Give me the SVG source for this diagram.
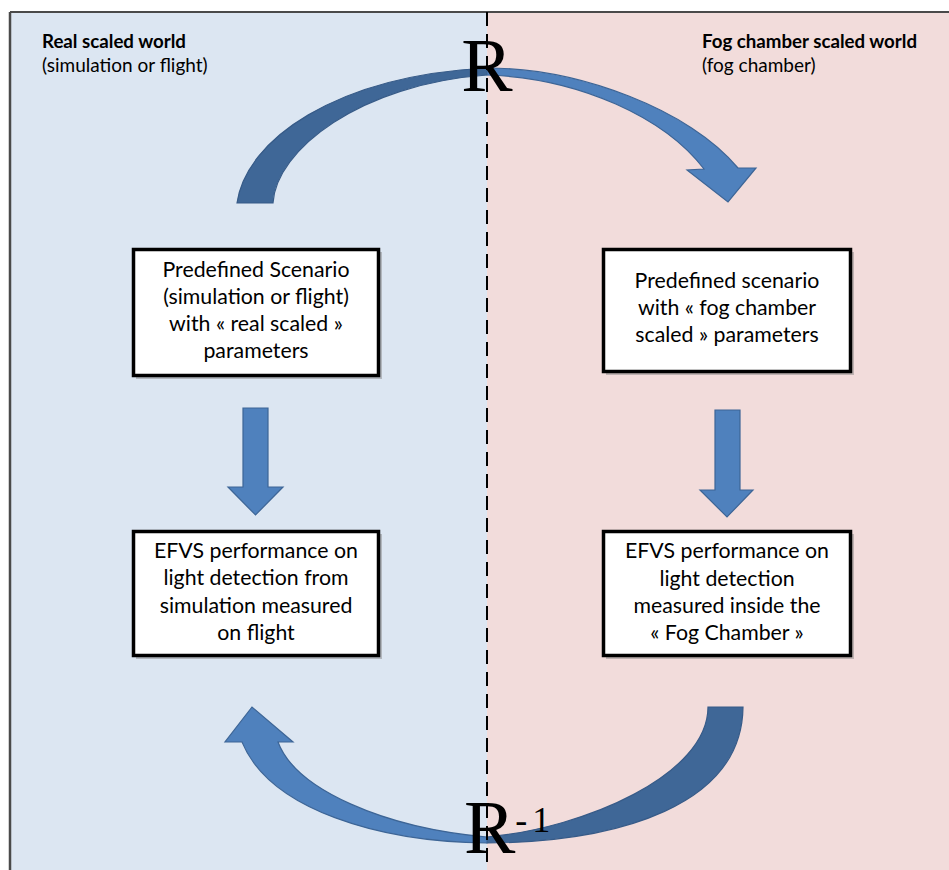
<svg xmlns="http://www.w3.org/2000/svg" width="949" height="870" viewBox="0 0 949 870">
<style>
.title{font-family:Lato,"Liberation Sans",sans-serif;font-size:18.7px;font-weight:bold;fill:#000}
.sub{font-family:Lato,"Liberation Sans",sans-serif;font-size:19px;fill:#000}
.box{fill:#fff;stroke:#000;stroke-width:3.5}
.shadow{fill:#7f7f7f;opacity:0.45}
.lbl{font-family:Lato,"Liberation Sans",sans-serif;font-size:21.3px;fill:#000;text-anchor:middle}
.light{fill:#4f81bd;stroke:#3d6596;stroke-width:1.2}
.dark{fill:#3f6797;stroke:#375b88;stroke-width:1.2}
.rlab{font-family:"Liberation Serif","Times New Roman",serif;fill:#000}
</style>
<rect x="0" y="0" width="949" height="870" fill="#fff"/>
<g id="panels">
<rect x="10" y="12" width="477" height="858" fill="#dce6f2"/>
<rect x="487" y="12" width="462" height="858" fill="#f2dcdb"/>
<line x1="10" y1="12" x2="949" y2="12" stroke="#4a4a4a" stroke-width="2"/>
<line x1="10" y1="12" x2="10" y2="870" stroke="#4a4a4a" stroke-width="2.5"/>
</g>
<g id="real-world-title">
<text class="title" x="42" y="48">Real scaled world</text>
<text class="sub" x="42" y="72">(simulation or flight)</text>
</g>
<g id="fog-world-title">
<text class="title" x="702" y="48">Fog chamber scaled world</text>
<text class="sub" x="702" y="72">(fog chamber)</text>
</g>
<g id="connectors">
<path class="dark" d="M237,203 C246,140 335,76 487,68 L487,75 C360,84 276,150 273,203 Z"/>
<path class="light" d="M487,68 C580,68 690,110 738,168 L756,168 L728,202 L687,170 L704,169 C665,118 580,78 487,75 Z"/>
<path class="light" d="M243,408 H268 V487 H283 L255.5,515 L228,487 H243 Z"/>
<path class="light" d="M715,410 H740 V490 H753 L727,517 L700,490 H715 Z"/>
<path class="dark" d="M743,707 C742,805 620,842 487,843 L487,837 C585,828 708,775 708,707 Z"/>
<path class="light" d="M487,843 C380,842 270,810 242,742 L225,742 L252,707 L293,742 L278,742 C296,790 385,828 487,837 Z"/>
<line x1="487" y1="12" x2="487" y2="870" stroke="#000" stroke-width="2" stroke-dasharray="14,8"/>
<text class="rlab" x="487" y="91" font-size="77" text-anchor="middle">R</text>
<text class="rlab" x="464" y="853" font-size="77">R<tspan font-size="36" dy="-21" letter-spacing="5">-1</tspan></text>
</g>
<g id="node-real-scenario">
<rect class="shadow" x="136" y="252" width="246" height="127"/>
<rect class="box" x="133.5" y="249.5" width="245" height="126"/>
<text class="lbl" x="256" y="277">Predefined Scenario</text>
<text class="lbl" x="256" y="304">(simulation or flight)</text>
<text class="lbl" x="256" y="331">with « real scaled »</text>
<text class="lbl" x="256" y="358">parameters</text>
</g>
<g id="node-real-performance">
<rect class="shadow" x="136" y="534" width="246" height="125"/>
<rect class="box" x="133.5" y="531.5" width="245" height="124"/>
<text class="lbl" x="256" y="558">EFVS performance on</text>
<text class="lbl" x="256" y="585">light detection from</text>
<text class="lbl" x="256" y="613">simulation measured</text>
<text class="lbl" x="256" y="640">on flight</text>
</g>
<g id="node-fog-scenario">
<rect class="shadow" x="606" y="252" width="248" height="123"/>
<rect class="box" x="603.5" y="249.5" width="247" height="122"/>
<text class="lbl" x="727" y="288">Predefined scenario</text>
<text class="lbl" x="727" y="315">with « fog chamber</text>
<text class="lbl" x="727" y="342">scaled » parameters</text>
</g>
<g id="node-fog-performance">
<rect class="shadow" x="606" y="534" width="248" height="125"/>
<rect class="box" x="603.5" y="531.5" width="247" height="124"/>
<text class="lbl" x="727" y="558">EFVS performance on</text>
<text class="lbl" x="727" y="586">light detection</text>
<text class="lbl" x="727" y="613">measured inside the</text>
<text class="lbl" x="727" y="640">« Fog Chamber »</text>
</g>
</svg>
